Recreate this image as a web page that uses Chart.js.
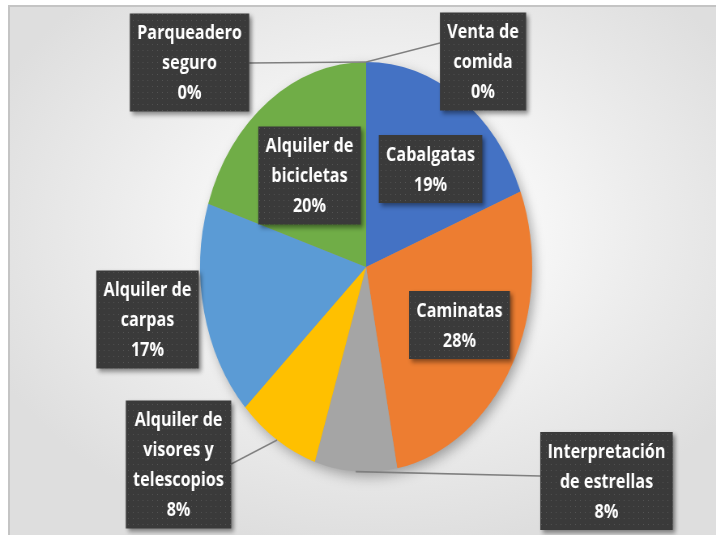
<!DOCTYPE html>
<html>
<head>
<meta charset="utf-8">
<script src="https://cdn.jsdelivr.net/npm/chart.js@4.4.1/dist/chart.umd.min.js"></script>
<style>
  html, body { margin: 0; padding: 0; background: #fff; overflow: hidden; }
  #frame {
    position: absolute; left: 8px; top: 5px; width: 710px; height: 532px;
    border-left: 2px solid #c4c4c4; border-top: 2px solid #c4c4c4;
    background: radial-gradient(ellipse 60% 60% at 52% 42%, #ffffff 15%, #ededed 60%, #dedede 100%);
  }
  #squash {
    position: absolute; left: 0; top: 0; width: 884px; height: 535px;
    transform: scaleX(0.81); transform-origin: 0 0;
  }
</style>
</head>
<body>
<div id="frame"></div>
<div id="squash"><canvas id="pieChart"></canvas></div>
<script>
// categories clockwise from the top
var categories = [
  ["Venta de", "comida"],
  ["Cabalgatas"],
  ["Caminatas"],
  ["Interpretación", "de estrellas"],
  ["Alquiler de", "visores y", "telescopios"],
  ["Alquiler de", "carpas"],
  ["Alquiler de", "bicicletas"],
  ["Parqueadero", "seguro"]
];
var shares = [0, 19, 28, 8, 8, 17, 20, 0];
var sliceColors = ["#c0504d", "#4472c4", "#ed7d31", "#a5a5a5", "#ffc000", "#5b9bd5", "#70ad47", "#264478"];

// horizontal squash of the whole picture (the pie is an ellipse)
var S = 0.81;

// label box centres in screen px, and where the leader line meets the box
var labelBoxes = [
  { x: 483, y: 61.5, lead: "left", leadY: 43 },
  { x: 430.5, y: 169 },
  { x: 459.5, y: 325 },
  { x: 606.5, y: 481, lead: "left", leadY: 476 },
  { x: 178.5, y: 464.5, lead: "right", leadY: 464 },
  { x: 147.5, y: 319.5 },
  { x: 309.5, y: 175.5 },
  { x: 189.5, y: 62.5, lead: "right", leadY: 63 }
];

function makeDots(ctx){
  var c = document.createElement("canvas");
  c.width = 6; c.height = 6;
  var p = c.getContext("2d");
  p.fillStyle = "#3a3a3a";
  p.fillRect(0, 0, 6, 6);
  p.fillStyle = "#555555";
  p.fillRect(2, 2, 1, 1);
  return ctx.createPattern(c, "repeat");
}

var pieShadow = {
  id: "pieShadow",
  beforeDatasetsDraw: function(chart){
    var arc = chart.getDatasetMeta(0).data[0];
    if (!arc) return;
    var ctx = chart.ctx;
    ctx.save();
    ctx.shadowColor = "rgba(0,0,0,0.35)";
    ctx.shadowBlur = 14;
    ctx.shadowOffsetX = 4;
    ctx.shadowOffsetY = 5;
    ctx.fillStyle = "#999";
    ctx.beginPath();
    ctx.arc(arc.x, arc.y, arc.outerRadius - 1, 0, Math.PI * 2);
    ctx.fill();
    ctx.restore();
  }
};

var boxLabels = {
  id: "boxLabels",
  afterDatasetsDraw: function(chart){
    var ctx = chart.ctx;
    var meta = chart.getDatasetMeta(0);
    var total = shares.reduce(function(a, b){ return a + b; }, 0);
    var lineH = 30, padX = 9, padY = 4;
    var dots = makeDots(ctx);

    ctx.save();
    ctx.font = "bold 20px 'Open Sans', sans-serif";
    ctx.textAlign = "center";
    ctx.textBaseline = "middle";

    var boxes = categories.map(function(lines, i){
      var all = lines.concat([Math.round(shares[i] / total * 100) + "%"]);
      var w = 0;
      all.forEach(function(t){ w = Math.max(w, ctx.measureText(t).width); });
      w += padX * 2;
      var h = all.length * lineH + padY * 2;
      return { lines: all, cx: labelBoxes[i].x / S, cy: labelBoxes[i].y, w: w, h: h };
    });

    // leader lines
    ctx.strokeStyle = "#7f7f7f";
    ctx.lineWidth = 1.6;
    boxes.forEach(function(b, i){
      var lb = labelBoxes[i];
      if (!lb.lead) return;
      var arc = meta.data[i];
      var mid = (arc.startAngle + arc.endAngle) / 2;
      var sx = arc.x + Math.cos(mid) * arc.outerRadius;
      var sy = arc.y + Math.sin(mid) * arc.outerRadius;
      var ex = lb.lead === "left" ? b.cx - b.w / 2 : b.cx + b.w / 2;
      ctx.beginPath();
      ctx.moveTo(sx, sy);
      ctx.lineTo(ex, lb.leadY);
      ctx.stroke();
    });

    // boxes
    boxes.forEach(function(b){
      var l = b.cx - b.w / 2, t = b.cy - b.h / 2;
      ctx.save();
      ctx.shadowColor = "rgba(0,0,0,0.45)";
      ctx.shadowBlur = 5;
      ctx.shadowOffsetX = 3;
      ctx.shadowOffsetY = 3;
      ctx.fillStyle = dots;
      ctx.fillRect(l, t, b.w, b.h);
      ctx.restore();
      ctx.fillStyle = "#ffffff";
      b.lines.forEach(function(txt, k){
        ctx.fillText(txt, b.cx, t + padY + lineH * k + lineH / 2 + 1);
      });
    });
    ctx.restore();
  }
};

new Chart(document.getElementById("pieChart"), {
  type: "pie",
  data: {
    labels: categories,
    datasets: [{
      data: shares,
      backgroundColor: sliceColors,
      borderWidth: 0
    }]
  },
  options: {
    responsive: true,
    maintainAspectRatio: false,
    animation: false,
    events: [],
    layout: { padding: { top: 62, bottom: 63, left: 247, right: 227 } },
    plugins: {
      legend: { display: false },
      tooltip: { enabled: false }
    }
  },
  plugins: [pieShadow, boxLabels]
});
</script>
</body>
</html>
